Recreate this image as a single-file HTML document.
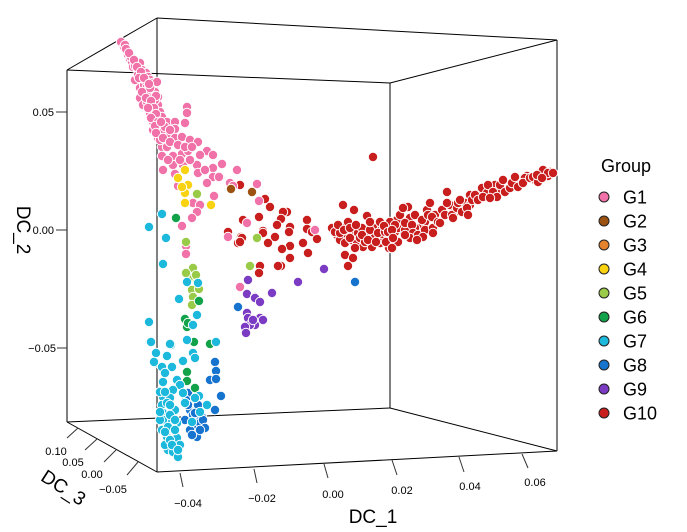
<!DOCTYPE html>
<html><head><meta charset="utf-8"><style>
html,body{margin:0;padding:0;background:#fff;}
svg{display:block;font-family:"Liberation Sans",Arial,sans-serif;}
</style></head><body>
<svg id="s" width="687" height="532" viewBox="0 0 687 532" xmlns="http://www.w3.org/2000/svg">
<g stroke="#000" stroke-width="1" fill="none">
<line x1="157" y1="18" x2="157" y2="472"/>
<line x1="557" y1="40" x2="557" y2="451"/>
<line x1="67" y1="70" x2="67" y2="422"/>
<line x1="390" y1="83" x2="390" y2="408"/>
<line x1="67" y1="70" x2="157" y2="18"/>
<line x1="157" y1="18" x2="557" y2="40"/>
<line x1="557" y1="40" x2="390" y2="83"/>
<line x1="390" y1="83" x2="67" y2="70"/>
<line x1="67" y1="422" x2="157" y2="472"/>
<line x1="157" y1="472" x2="557" y2="451"/>
<line x1="557" y1="451" x2="390" y2="408"/>
<line x1="390" y1="408" x2="67" y2="422"/>
</g>
<g stroke="#333" stroke-width="1">
<line x1="56" y1="112" x2="67" y2="112"/>
<line x1="56" y1="230" x2="67" y2="230"/>
<line x1="57" y1="348" x2="67" y2="348"/>
<line x1="180" y1="473" x2="183" y2="487"/>
<line x1="254" y1="469" x2="257" y2="483"/>
<line x1="324" y1="464" x2="328" y2="478"/>
<line x1="392" y1="460" x2="397" y2="475"/>
<line x1="459" y1="457" x2="464" y2="472"/>
<line x1="522" y1="454" x2="528" y2="468"/>
<line x1="78" y1="428" x2="67" y2="438"/>
<line x1="97" y1="439" x2="85" y2="450"/>
<line x1="116" y1="450" x2="104" y2="462"/>
<line x1="138" y1="462" x2="127" y2="475"/>
</g>
<g font-size="11" fill="#000">
<text x="54" y="116" text-anchor="end">0.05</text>
<text x="54" y="234" text-anchor="end">0.00</text>
<text x="56" y="352" text-anchor="end">−0.05</text>
<text x="188" y="507" text-anchor="middle">−0.04</text>
<text x="262" y="502" text-anchor="middle">−0.02</text>
<text x="333" y="498" text-anchor="middle">0.00</text>
<text x="402" y="494" text-anchor="middle">0.02</text>
<text x="470" y="490" text-anchor="middle">0.04</text>
<text x="535" y="486" text-anchor="middle">0.06</text>
<text x="56" y="455" text-anchor="middle">0.10</text>
<text x="73" y="466" text-anchor="middle">0.05</text>
<text x="92" y="478" text-anchor="middle">0.00</text>
<text x="113" y="493" text-anchor="middle">−0.05</text>
</g>
<g font-size="19" fill="#000">
<text x="373" y="523" text-anchor="middle">DC_1</text>
<text transform="translate(17,230) rotate(90)" text-anchor="middle">DC_2</text>
<text transform="translate(60,493) rotate(33)" text-anchor="middle">DC_3</text>
</g>
<g id="pts" stroke="#fff" stroke-width="1"></g>
<g id="leg"></g>
</svg>
<script>
var C={G1:"#F072A8",G2:"#9C5312",G3:"#E5822E",G4:"#F9D312",G5:"#9ACB48",G6:"#12A24A",G7:"#1DB9DC",G8:"#1673CE",G9:"#7B3BC2",G10:"#C81E1E"};
var D={
G10:[[240,185],[265,199],[270,207],[287,212],[283,212],[259,217],[243,220],[281,219],[277,225],[290,227],[289,232],[307,220],[307,229],[312,232],[263,231],[228,232],[241,237],[238,243],[275,237],[268,243],[303,243],[317,239],[290,246],[282,249],[308,253],[290,258],[281,266],[260,266],[259,273],[373,157],[343,205],[354,210],[367,216],[332,228],[342,228],[348,222],[337,235],[340,240],[347,234],[353,232],[358,233],[362,228],[345,243],[352,240],[357,242],[367,235],[375,228],[382,227],[375,237],[383,237],[363,247],[372,247],[380,243],[389,248],[393,237],[397,220],[392,228],[402,230],[405,207],[345,255],[353,258],[348,266],[278,266],[242,238],[263,233],[240,242],
[335,232],[350,238],[360,238],[370,230],[378,233],[385,232],[395,232],[398,242],[386,242],[365,242],[355,248],[340,233],[370,222],[380,222],[390,222],[400,215],[410,218],[420,228],[415,215],[450,205],[465,203],[470,195],[480,193],[495,185],[500,190],[520,180],[527,176],[545,176],[550,172],[540,173],
[338,225],[344,230],[350,228],[356,225],[362,235],[368,240],[376,242],[384,226],[388,232],[398,228],[405,230],[415,228],[425,222],[435,215],[442,210],[455,212],[470,205],[485,195],[500,185],[515,185],[525,178],[535,180],[548,176],
[395,225],[392,230],[393,238],[392,248],[405,223],[408,207],[403,208],[412,225],[413,233],[410,238],[418,235],[422,220],[425,230],[427,210],[430,203],[428,215],[432,217],[433,228],[438,222],[445,215],[447,203],[447,192],[452,215],[457,208],[458,203],[460,200],[462,212],[467,208],[472,200],[475,195],[478,200],[482,188],[487,193],[488,185],[493,192],[497,197],[503,180],[505,192],[510,188],[512,183],[515,177],[518,187],[523,183],[530,178],[533,177],[538,182],[543,170],[548,173],[553,173],[537,175],[542,178],[483,197],[490,198],[468,215],[453,218],[440,223],[433,233],[423,237],[417,240],[405,235]],
G1:[[121,42],[124,47],[127,51],[128,55],[130,59],[132,62],[133,67],[136,64],[140,63],[138,70],[142,70],[143,75],[146,73],[148,77],[135,80],[150,80],[153,83],[157,82],[140,88],[144,85],[147,87],[152,90],[155,92],[140,98],[145,93],[150,97],[158,97],[143,105],[147,102],[152,105],[158,105],[150,113],[155,110],[160,112],[153,122],[157,117],[162,117],[153,130],[160,127],[158,138],[163,132],[167,122],[175,122],[185,123],[187,107],[187,113],[175,129],[168,137],[175,138],[182,137],[190,140],[198,142],[162,147],[167,147],[162,156],[173,156],[182,154],[188,151],[207,151],[213,156],[222,164],[237,170],[197,165],[173,165],[183,165],[163,170],[175,174],[198,173],[213,168],[213,177],[220,177],[207,183],[230,183],[233,186],[257,184],[178,186],[215,196],[193,203],[200,205],[197,212],[192,218],[182,226],[259,201],[214,196],[219,177],[213,155],[247,223],[228,237],[315,230],[240,287],[186,246],[186,254],[125,45],[131,57],[135,66],[138,75],[145,80],[148,90],[150,88],[155,100],[156,96],[165,127],[170,130],[160,140],
[126,49],[129,53],[134,60],[137,67],[141,72],[139,78],[144,78],[149,84],[142,92],[146,98],[151,101],[154,108],[148,108],[156,114],[151,118],[158,122],[155,126],[161,122],[156,133],[163,138],[170,142],[178,145],[185,147],[192,147],[200,155],[180,160],[190,160],[205,170],[168,160]],
G2:[[231,189],[252,192]],
G3:[],
G4:[[185,170],[178,178],[188,185],[185,193],[185,203],[210,205],[182,187],[211,205]],
G5:[[197,194],[186,242],[257,238],[250,266],[193,268],[190,277],[197,282],[192,290],[199,289],[193,297],[192,305],[186,273],[196,275]],
G6:[[176,218],[185,319],[187,327],[194,342],[210,344],[187,372],[187,381],[195,388],[199,301],[188,323]],
G7:[[162,214],[149,227],[166,238],[163,264],[179,299],[149,322],[150,342],[156,353],[155,363],[167,356],[171,345],[162,367],[172,367],[163,382],[165,373],[177,380],[180,385],[173,390],[163,397],[170,398],[162,405],[163,413],[172,412],[167,423],[170,427],[177,423],[162,430],[167,437],[177,438],[180,445],[168,450],[173,452],[178,457],[183,361],[193,353],[195,358],[187,340],[193,325],[197,315],[187,282],[216,342],[170,344],[151,342],[154,362],[163,420],[168,427],[165,445],[170,440],[175,430],[160,392],[167,403],[175,410],[160,420],[170,415],[198,283],
[165,392],[170,405],[160,412],[175,420],[165,432],[172,445],[178,450]],
G8:[[355,282],[238,307],[215,362],[216,371],[210,380],[216,379],[221,396],[188,393],[186,400],[190,410],[197,410],[202,417],[195,420],[192,427],[200,423],[203,420],[215,410],[197,437],[190,430],[193,415],[198,405],[185,420],[205,428],[188,405],[195,413],[200,430],[192,435]],
G7b:[[199,396],[185,403],[207,405],[183,393],[195,398],[200,412],[192,422]],
G9:[[324,269],[298,282],[248,280],[272,293],[247,294],[255,297],[255,298],[260,302],[247,313],[248,318],[260,318],[263,320],[255,325],[250,325],[245,327],[246,333],[253,320]]
};
var ns="http://www.w3.org/2000/svg";
var g=document.getElementById("pts");
var order=["G10","G1","G2","G4","G5","G9","G8","G6","G7","G7b"];
order.forEach(function(k){
  var col=C[k]||C.G7;
  D[k].forEach(function(p){
    var c=document.createElementNS(ns,"circle");
    c.setAttribute("cx",p[0]);c.setAttribute("cy",p[1]);c.setAttribute("r","4.7");
    c.setAttribute("fill",col);g.appendChild(c);
  });
});
var L=document.getElementById("leg");
var t=document.createElementNS(ns,"text");
t.setAttribute("x","601");t.setAttribute("y","172");t.setAttribute("font-size","18");t.textContent="Group";L.appendChild(t);
var keys=["G1","G2","G3","G4","G5","G6","G7","G8","G9","G10"];
keys.forEach(function(k,i){
  var y=197+24*i;
  var c=document.createElementNS(ns,"circle");
  c.setAttribute("cx","604");c.setAttribute("cy",y);c.setAttribute("r","5");
  c.setAttribute("fill",C[k]);c.setAttribute("stroke","#222");c.setAttribute("stroke-width","1");L.appendChild(c);
  var tx=document.createElementNS(ns,"text");
  tx.setAttribute("x","623");tx.setAttribute("y",y+6.5);tx.setAttribute("font-size","18");tx.textContent=k;L.appendChild(tx);
});
</script>
</body></html>
